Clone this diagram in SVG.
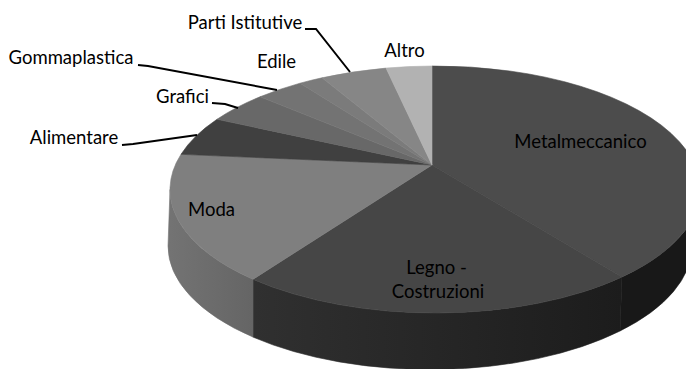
<svg xmlns="http://www.w3.org/2000/svg" width="686" height="369" viewBox="0 0 686 369">
  <defs>
    <style>
      .lbl { font-family: Lato, "Liberation Sans", sans-serif; font-size: 18.5px; fill: #000; text-anchor: middle; }
      .lead { fill: none; stroke: #000; stroke-width: 2; stroke-linejoin: miter; }
      .face { stroke-width: 0.6; stroke-linejoin: round; }
    </style>
    <linearGradient id="legnoSide" x1="253" y1="0" x2="622" y2="0" gradientUnits="userSpaceOnUse">
      <stop offset="0" stop-color="#303030"/>
      <stop offset="1" stop-color="#1c1c1c"/>
    </linearGradient>
    <linearGradient id="modaSide" x1="170" y1="0" x2="253" y2="0" gradientUnits="userSpaceOnUse">
      <stop offset="0" stop-color="#737373"/>
      <stop offset="1" stop-color="#656565"/>
    </linearGradient>
  </defs>
  <rect width="686" height="369" fill="#fff"/>

  <g id="metalmeccanico">
    <path class="face" d="M622,277 A265,123.5 0 0 0 700,189.5 L692,246 A262,123.5 0 0 1 620,331 Z" fill="#181818" stroke="#181818"/>
    <path class="face" d="M432,165 L432,66 A265,123.5 0 0 1 622,277 Z" fill="#4c4c4c" stroke="#4c4c4c"/>
    <text class="lbl" x="580.5" y="148">Metalmeccanico</text>
  </g>
  <g id="legno-costruzioni">
    <path class="face" d="M253,279.3 A265,123.5 0 0 0 622,277 L620,331 A262,123.5 0 0 1 253,337.1 Z" fill="url(#legnoSide)" stroke="url(#legnoSide)"/>
    <path class="face" d="M432,165 L622,277 A265,123.5 0 0 1 253,279.3 Z" fill="#464646" stroke="#464646"/>
    <text class="lbl" x="436.5" y="274">Legno -</text>
    <text class="lbl" x="438" y="298">Costruzioni</text>
  </g>
  <g id="moda">
    <path class="face" d="M170,189.5 A265,123.5 0 0 0 253,279.3 L253,337.1 A262,123.5 0 0 1 168,246 Z" fill="url(#modaSide)" stroke="url(#modaSide)"/>
    <path class="face" d="M432,165 L253,279.3 A265,123.5 0 0 1 181,154.3 Z" fill="#7f7f7f" stroke="#7f7f7f"/>
    <text class="lbl" x="211.5" y="216">Moda</text>
  </g>
  <g id="alimentare">
    <path class="face" d="M432,165 L181,154.3 A265,123.5 0 0 1 217,119.3 Z" fill="#404040" stroke="#404040"/>
    <text class="lbl" x="74" y="144">Alimentare</text>
  </g>
  <g id="grafici">
    <path class="face" d="M432,165 L217,119.3 A265,123.5 0 0 1 260,96.8 Z" fill="#686868" stroke="#686868"/>
    <text class="lbl" x="182.5" y="103">Grafici</text>
  </g>
  <g id="gommaplastica">
    <path class="face" d="M432,165 L260,96.8 A265,123.5 0 0 1 300,83.2 Z" fill="#737373" stroke="#737373"/>
    <text class="lbl" x="71" y="64">Gommaplastica</text>
  </g>
  <g id="edile">
    <path class="face" d="M432,165 L300,83.2 A265,123.5 0 0 1 322,77.8 Z" fill="#7b7b7b" stroke="#7b7b7b"/>
    <text class="lbl" x="276.5" y="68">Edile</text>
  </g>
  <g id="parti-istitutive">
    <path class="face" d="M432,165 L322,77.8 A265,123.5 0 0 1 386,68.1 Z" fill="#868686" stroke="#868686"/>
    <text class="lbl" x="245" y="29">Parti Istitutive</text>
  </g>
  <g id="altro">
    <path class="face" d="M432,165 L386,68.1 A265,123.5 0 0 1 432,66 Z" fill="#b2b2b2" stroke="#b2b2b2"/>
    <text class="lbl" x="404.5" y="57">Altro</text>
  </g>

  <g id="connectors">
    <polyline class="lead" points="305,29 316,29 350,72"/>
    <polyline class="lead" points="138,65 148,66 277,90"/>
    <polyline class="lead" points="212,103 225,104 238,108"/>
    <polyline class="lead" points="122,145 133,144 197,135"/>
  </g>
</svg>
